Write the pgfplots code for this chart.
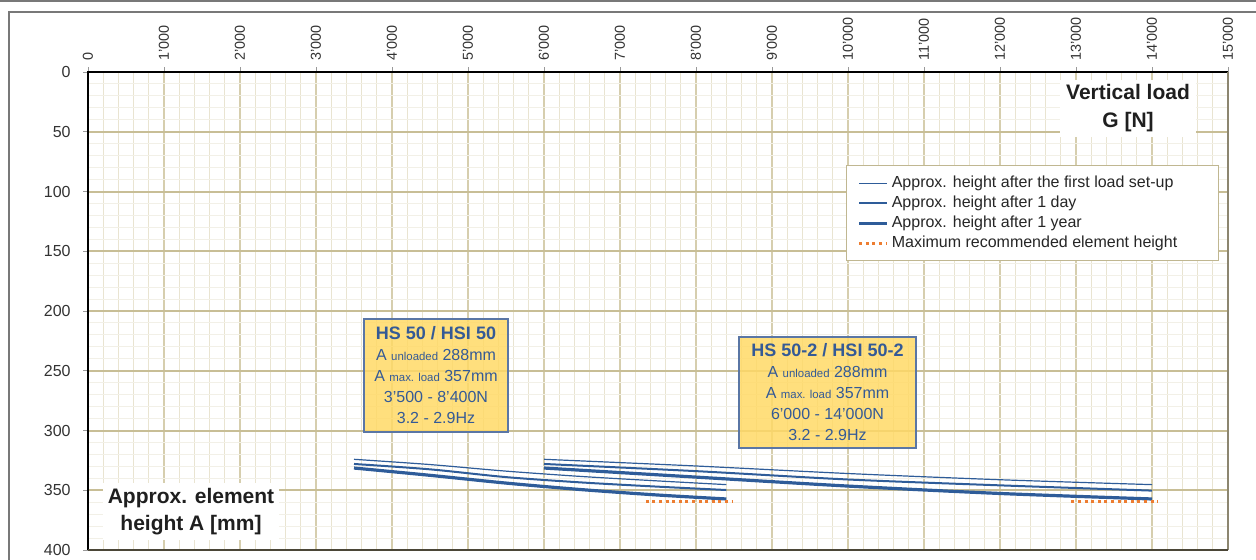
\documentclass[border=0pt]{standalone}
\usepackage{pgfplots}
\pgfplotsset{compat=1.18}
\usepackage{fontspec}
\setmainfont{Liberation Sans}

\definecolor{gridmajx}{RGB}{214,206,174}
\definecolor{gridmajy}{RGB}{200,190,150}
\definecolor{gridminx}{RGB}{233,228,209}
\definecolor{gridminy}{RGB}{242,240,231}
\definecolor{lineblue}{RGB}{46,92,153}
\definecolor{dotorange}{RGB}{237,125,49}
\definecolor{boxfill}{RGB}{255,217,102}
\definecolor{boxdraw}{RGB}{90,118,165}
\definecolor{boxtext}{RGB}{52,90,150}
\definecolor{framegray}{RGB}{120,120,120}
\definecolor{legborder}{RGB}{192,183,145}
\definecolor{axright}{RGB}{140,134,112}
\definecolor{axbottom}{RGB}{75,70,55}

% HS 50 / HSI 50
\pgfplotstableread{
x     thin   day    year
3500  324.1  328.0  331.4
4500  328.5  332.5  337.5
5500  334.0  339.0  344.0
6500  338.5  343.5  349.5
7500  342.2  347.0  354.0
8400  345.3  349.8  357.3
}\hsA

% HS 50-2 / HSI 50-2
\pgfplotstableread{
x      thin   day    year
6000   324.1  328.0  331.4
8000   329.7  334.0  339.0
10000  336.0  341.0  346.5
12000  341.2  345.9  352.7
14000  345.3  350.3  357.3
}\hsB

\begin{document}
\begin{tikzpicture}
\useasboundingbox (0,0) rectangle (628pt,-280pt);
% page frame
\draw[framegray, line width=1pt] (0,-0.5pt) -- (628pt,-0.5pt);
\draw[framegray, line width=1pt] (4.5pt,-280pt) -- (4.5pt,-6pt) -- (628pt,-6pt);

\begin{axis}[
  at={(329pt,-155.5pt)}, anchor=center,
  scale only axis, width=570pt, height=239pt,
  xmin=0, xmax=15000, ymin=0, ymax=400, y dir=reverse,
  clip=false,
  axis line style={draw=none},
  scaled x ticks=false, scaled y ticks=false,
  xtick={0,1000,...,15000},
  xticklabels={0,1'000,2'000,3'000,4'000,5'000,6'000,7'000,8'000,9'000,10'000,11'000,12'000,13'000,14'000,15'000},
  ytick={0,50,...,400},
  xtick pos=upper, xticklabel pos=upper,
  ytick pos=left, yticklabel pos=left,
  /pgf/number format/assume math mode=true,
  xticklabel shift=3pt,
  xticklabel style={rotate=90, anchor=west, inner sep=0pt, font=\fontsize{7.2}{8}\selectfont, text=black!80},
  yticklabel style={inner sep=0pt, xshift=-6pt, font=\fontsize{8}{9}\selectfont, text=black!80},
  tick align=outside, major tick length=2.5pt,
  minor tick length=0pt,
  tick style={draw=black!40, line width=0.5pt},
  minor x tick num=4, minor y tick num=4,
  grid=both,
  major x grid style={draw=gridmajx, line width=0.7pt},
  major y grid style={draw=gridmajy, line width=1pt},
  minor x grid style={draw=gridminx, line width=0.5pt},
  minor y grid style={draw=gridminy, line width=0.5pt},
  legend style={at={(0.6649,0.8054)}, anchor=north west, draw=legborder, fill=white,
    line width=0.6pt, font=\fontsize{8}{9.6}\selectfont, text=black!85,
    inner xsep=5.5pt, inner ysep=4.5pt, row sep=1.5pt, column sep=1.5pt,
    nodes={inner sep=0pt, text height=6.2pt, text depth=2.3pt}},
  legend image code/.code={\draw[#1] (0pt,0pt) -- (14pt,0pt);},
  legend cell align=left,
]
\addplot[lineblue, line width=0.6pt, smooth] table[x=x, y=thin] {\hsA};
\addlegendentry{\makebox[158pt][l]{Approx. height after the first load set-up}}
\addplot[lineblue, line width=1pt, smooth] table[x=x, y=day] {\hsA};
\addlegendentry{Approx. height after 1 day}
\addplot[lineblue, line width=1.6pt, smooth] table[x=x, y=year] {\hsA};
\addlegendentry{Approx. height after 1 year}
\addplot[dotorange, line width=1.5pt, dash pattern=on 1.5pt off 1.8pt] coordinates {(7340,359.3) (8470,359.3)};
\addlegendentry{Maximum recommended element height}

\addplot[lineblue, line width=0.6pt, smooth, forget plot] table[x=x, y=thin] {\hsB};
\addplot[lineblue, line width=1pt, smooth, forget plot] table[x=x, y=day] {\hsB};
\addplot[lineblue, line width=1.6pt, smooth, forget plot] table[x=x, y=year] {\hsB};
\addplot[dotorange, line width=1.5pt, dash pattern=on 1.5pt off 1.8pt, forget plot] coordinates {(12940,359.3) (14070,359.3)};

\draw[black, line width=0.6pt] (axis cs:0,400) -- (axis cs:0,0) -- (axis cs:15000,0);
\draw[axright, line width=1.2pt] (axis cs:15000,0) -- (axis cs:15000,400);
\draw[axbottom, line width=1pt] (axis cs:15000,400) -- (axis cs:0,400);
\end{axis}

% product boxes
\node[draw=boxdraw, fill=boxfill, fill opacity=0.85, text opacity=1, line width=0.6pt,
  minimum width=72pt, minimum height=56.5pt, inner sep=0pt, align=center, text=boxtext,
  font=\fontsize{8}{10.5}\selectfont] at (218pt,-187.75pt)
  {{\bfseries\fontsize{9}{10.5}\selectfont HS 50 / HSI 50}\\
   A {\fontsize{5.7}{6}\selectfont unloaded} 288mm\\
   A {\fontsize{5.7}{6}\selectfont max. load} 357mm\\
   3'500 - 8'400N\\
   3.2 - 2.9Hz};
\node[draw=boxdraw, fill=boxfill, fill opacity=0.85, text opacity=1, line width=0.6pt,
  minimum width=88.5pt, minimum height=55.5pt, inner sep=0pt, align=center, text=boxtext,
  font=\fontsize{8}{10.5}\selectfont] at (413.75pt,-196.25pt)
  {{\bfseries\fontsize{9}{10.5}\selectfont HS 50-2 / HSI 50-2}\\
   A {\fontsize{5.7}{6}\selectfont unloaded} 288mm\\
   A {\fontsize{5.7}{6}\selectfont max. load} 357mm\\
   6'000 - 14'000N\\
   3.2 - 2.9Hz};

% axis titles
\node[fill=white, inner sep=0pt, minimum width=68pt, minimum height=28.5pt, align=center,
  font=\bfseries\fontsize{10.5}{14}\selectfont, text=black!88] at (564pt,-54.25pt)
  {Vertical load\\G [N]};
\node[fill=white, inner sep=0pt, minimum width=88pt, minimum height=28.5pt, align=center,
  font=\bfseries\fontsize{10.5}{13.5}\selectfont, text=black!88] at (95.5pt,-255.75pt)
  {Approx. element\\height A [mm]};
\end{tikzpicture}
\end{document}
